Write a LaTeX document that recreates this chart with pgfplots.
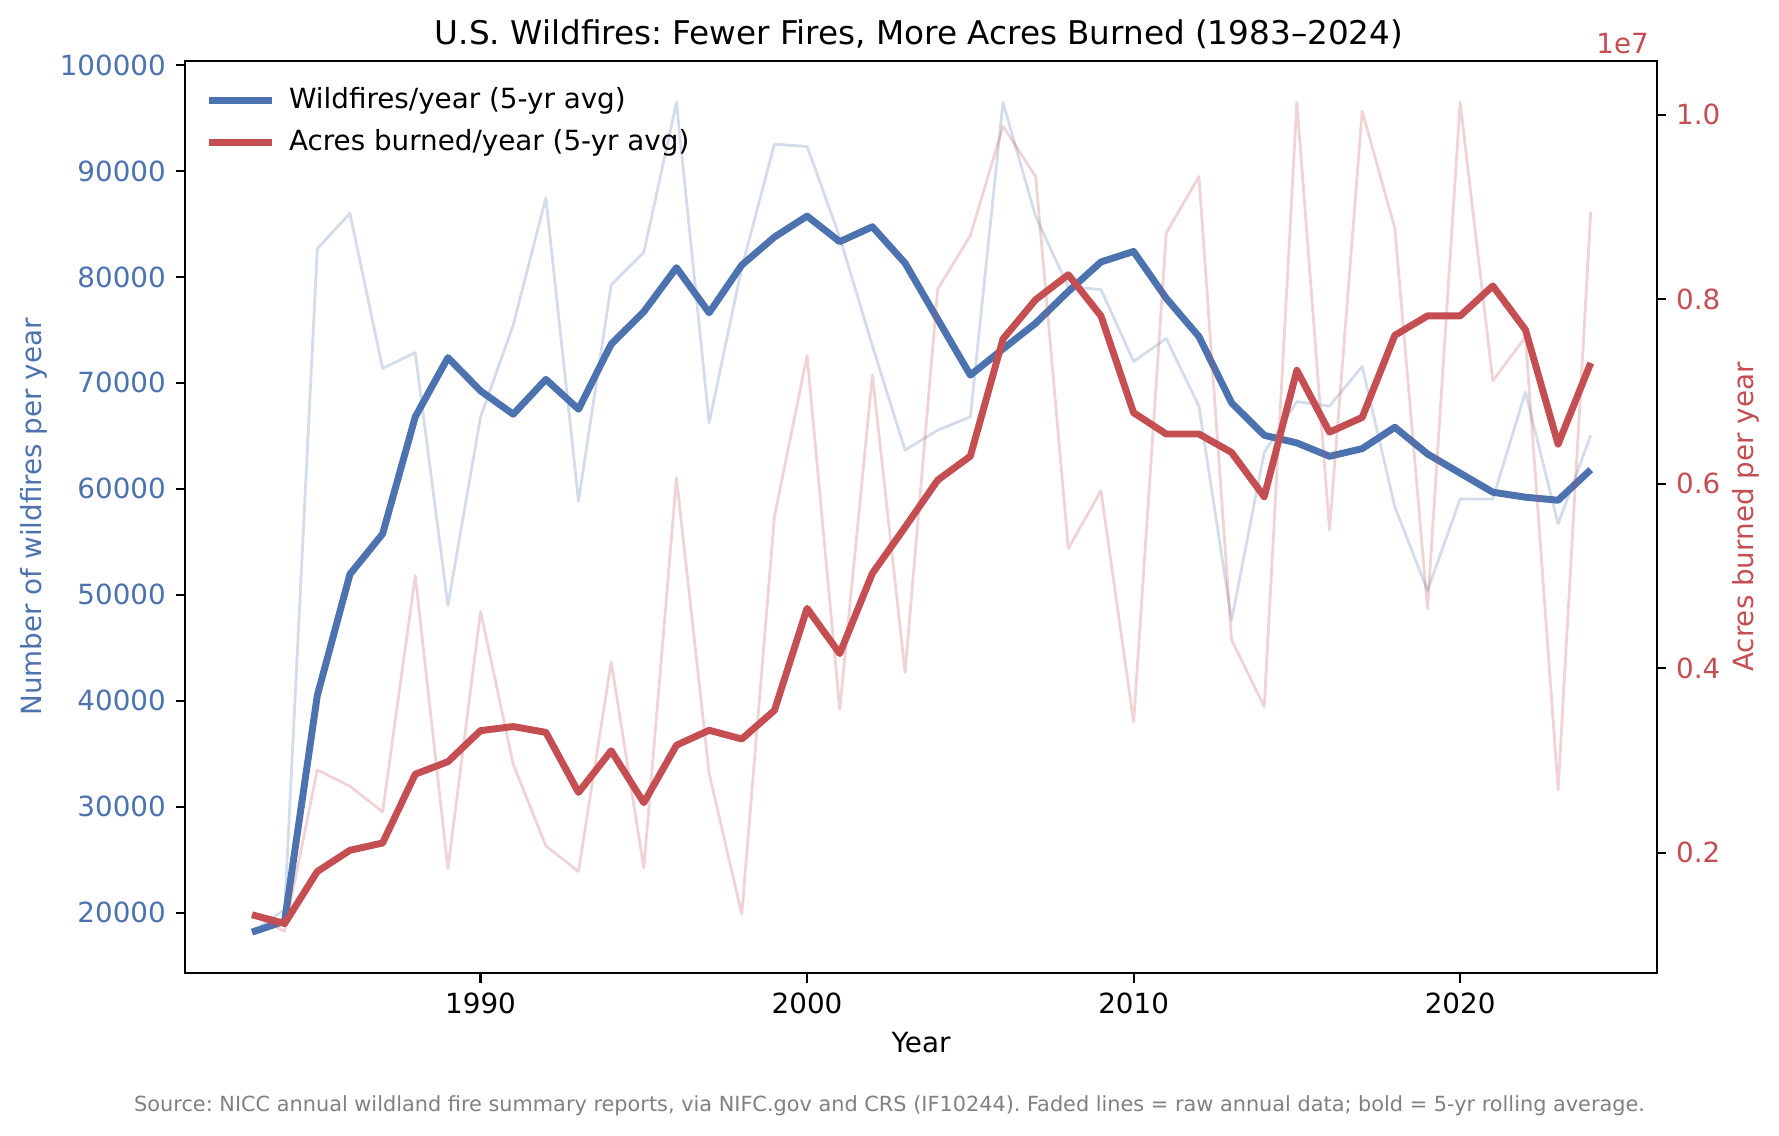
\documentclass[border=0pt]{standalone}
\usepackage{fontspec}
\setmainfont{DejaVu Sans}
\usepackage{pgfplots}
\pgfplotsset{compat=1.18}
\usepackage{pgfplotstable}
\definecolor{cblue}{HTML}{4C72B0}
\definecolor{cred}{HTML}{C44E52}
\definecolor{srcgray}{HTML}{808080}

\pgfplotstableread{
year fires firesavg acres acresavg
1983 18160 18160 1329000 1329000
1984 20300 19200 1150000 1234000
1985 82670 40490 2900000 1798000
1986 85990 51940 2722000 2028000
1987 71370 55750 2444000 2107000
1988 72850 66790 5004000 2853000
1989 48990 72380 1830000 2988000
1990 66790 69240 4619000 3325000
1991 75450 67040 2960000 3369000
1992 87470 70330 2075000 3306000
1993 58850 67510 1798000 2655000
1994 79240 73650 4071000 3107000
1995 82310 76720 1837000 2544000
1996 96460 80870 6066000 3167000
1997 66250 76610 2861000 3329000
1998 80870 81120 1333000 3234000
1999 92530 83760 5643000 3544000
2000 92310 85740 7390000 4650000
2001 83760 83320 3556000 4160000
2002 73500 84730 7180000 5030000
2003 63650 81300 3956000 5530000
2004 65530 76000 8110000 6040000
2005 66790 70730 8690000 6300000
2006 96460 73200 9876000 7570000
2007 85700 75630 9330000 7996000
2008 79060 78630 5300000 8266000
2009 78810 81410 5925000 7820000
2010 72020 82400 3417000 6770000
2011 74190 77980 8720000 6540000
2012 67800 74370 9330000 6540000
2013 47600 68120 4310000 6340000
2014 63430 65050 3583000 5860000
2015 68230 64330 10133000 7230000
2016 67800 63070 5500000 6560000
2017 71550 63790 10040000 6720000
2018 58300 65810 8770000 7610000
2019 50400 63290 4647000 7820000
2020 59030 61480 10133000 7820000
2021 59030 59680 7116000 8145000
2022 69130 59210 7593000 7670000
2023 56680 58920 2683000 6430000
2024 65050 61810 8950000 7310000
}\data

\pgfplotsset{
  common/.style={
    at={(0,0)}, anchor=south west,
    scale only axis, width=529.67pt, height=328.32pt,
    xmin=1980.96, xmax=2026.02,
    tick align=outside,
    major tick length=3.5pt,
    every tick/.style={black, line width=0.8pt},
    axis line style={line width=0.8pt},
    /pgf/number format/fixed,
    /pgf/number format/precision=0,
    /pgf/number format/1000 sep={},
    /pgf/number format/assume math mode=true,
  },
}

\begin{document}
\frenchspacing
\begin{tikzpicture}
\useasboundingbox (-66.74pt,-58.68pt) rectangle ++(640.44pt,408.96pt);
\begin{axis}[
  common,
  ymin=14306, ymax=100378,
  xtick={1990,2000,2010,2020},
  ytick={20000,30000,40000,50000,60000,70000,80000,90000,100000},
  scaled y ticks=false,
  xtick pos=bottom, ytick pos=left,
  xticklabel style={font=\fontsize{10}{12}\selectfont},
  yticklabel style={font=\fontsize{10}{12}\selectfont, text=cblue},
  xlabel={Year},
  xlabel style={at={(axis description cs:0.5,0)}, anchor=base, yshift=-28.5pt, font=\fontsize{10}{12}\selectfont},
  ylabel={Number of wildfires per year},
  ylabel style={at={(axis description cs:-0.1030,0.5)}, anchor=center, font=\fontsize{10}{12}\selectfont, text=cblue},
]
\addplot[cblue, opacity=0.25, line width=1pt, line join=round] table[x=year,y=fires]{\data};
\addplot[cblue, line width=2.5pt, line join=round] table[x=year,y=firesavg]{\data};
\end{axis}
\begin{axis}[
  common,
  ymin=698000, ymax=10583000,
  axis x line=none, axis y line*=right,
  ytick={2000000,4000000,6000000,8000000,10000000},
  yticklabels={0.2,0.4,0.6,0.8,1.0},
  scaled y ticks=false,
  yticklabel style={font=\fontsize{10}{12}\selectfont, text=cred},
  ylabel={Acres burned per year},
  ylabel style={at={(axis description cs:1.0607,0.5)}, anchor=center, font=\fontsize{10}{12}\selectfont, text=cred},
  legend image code/.code={\draw[#1, line cap=butt] (0pt,0pt) -- (22.5pt,0pt);},
  legend cell align=left,
  legend style={at={(axis description cs:0.0078,0.9835)}, anchor=north west, draw=none, fill=none,
    font=\fontsize{10}{12}\selectfont, row sep=2pt, column sep=3pt},
]
\addlegendimage{cblue, line width=2.5pt}
\addlegendentry{Wildfires/year (5-yr avg)}
\addplot[cred, opacity=0.25, line width=1pt, line join=round, forget plot] table[x=year,y=acres]{\data};
\addplot[cred, line width=2.5pt, line join=round] table[x=year,y=acresavg]{\data};
\addlegendentry{Acres burned/year (5-yr avg)}
\end{axis}
\node[anchor=base, font=\fontsize{11.75}{14}\selectfont] at (264.1pt,334.32pt)
  {U.S. Wildfires: Fewer Fires, More Acres Burned (1983--2024)};
\node[anchor=base east, font=\fontsize{10}{12}\selectfont, text=cred] at (530.4pt,331.0pt) {1e7};
\node[anchor=base, font=\fontsize{7.5}{9}\selectfont, text=srcgray] at (253.5pt,-50pt)
  {Source: NICC annual wildland fire summary reports, via NIFC.gov and CRS (IF10244). Faded lines = raw annual data; bold = 5-yr rolling average.};
\end{tikzpicture}
\end{document}
